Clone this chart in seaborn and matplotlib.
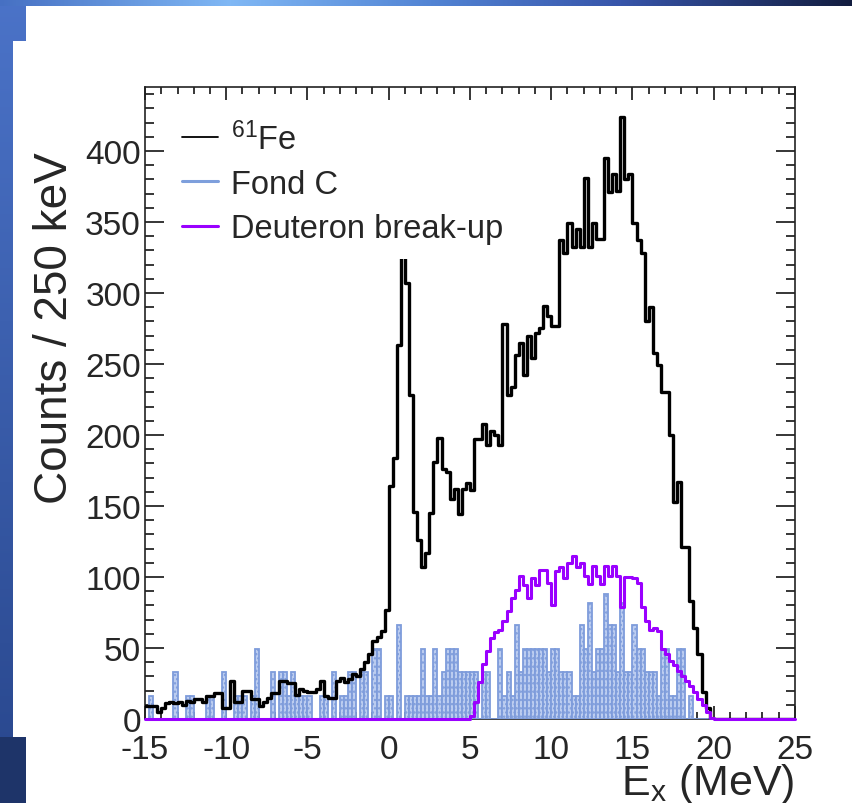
import numpy as np
import pandas as pd
import matplotlib
matplotlib.use("Agg")
import matplotlib.pyplot as plt
import seaborn as sns
from matplotlib.lines import Line2D
from matplotlib.ticker import MultipleLocator

# ---------------- data (counts per 250 keV bin, bins start at -15 MeV) ----------------
E_MIN, E_MAX, BIN_W = -15.0, 25.0, 0.25

# 61Fe spectrum, bins -15.00 ... 19.75 MeV
fe61_counts = [
    9, 9, 9, 5, 8, 11, 12, 11, 12, 10, 13, 12, 14, 14, 12, 16, 16, 18, 18, 8, 8, 27, 12, 12, 20, 20,
    14, 14, 9, 12, 15, 18, 18, 27, 27, 25, 25, 17, 21, 20, 19, 19, 21, 27, 16, 15, 15, 27, 29, 26,
    28, 32, 30, 35, 40, 46, 55, 58, 62, 77,
    164, 184, 263, 355, 307, 228, 146, 126, 107, 117, 145, 181, 198, 176,
    174, 155, 162, 144, 162, 166, 161, 197, 197, 208, 193, 203, 200, 193, 278, 228, 234, 256, 265, 242,
    270, 254, 272, 275,
    291, 284, 277, 277, 337, 328, 349, 332, 345, 332, 381, 332, 349, 338, 338, 395, 371, 384, 372, 424,
    380, 384,
    349, 337, 328, 280, 290, 258, 249, 230, 230, 200, 153, 167, 121, 121, 83, 64, 46, 19, 8, 0,
]

# Fond C (carbon background), bins -15.00 ... 19.75 MeV
fond_c_counts = [
    0, 16, 0, 0, 0, 0, 0, 33, 0, 0, 16, 16, 0, 0, 0, 16, 16, 0, 0, 33,
    0, 0, 16, 16, 16, 0, 16, 49, 0, 0, 0, 33, 0, 33, 33, 16, 33, 16, 16, 16,
    16, 0, 0, 16, 16, 0, 33, 0, 16, 16, 33, 33, 0, 33, 33, 0, 49, 49, 0, 16,
    16, 0, 66, 0, 16, 16, 16, 16, 49, 16, 16, 49, 16, 33, 49, 49, 49, 33, 33, 33,
    33, 33, 0, 33, 33, 0, 0, 49, 16, 33, 16, 66, 33, 49, 49, 49, 49, 49, 49, 33,
    49, 49, 33, 33, 33, 16, 16, 66, 49, 82, 33, 49, 49, 88, 66, 66, 33, 82, 33, 33,
    66, 49, 49, 33, 33, 33, 16, 49, 49, 16, 16, 49, 49, 0, 16, 0, 0, 0, 0, 0,
]

# Deuteron break-up, bins 5.00 ... 19.75 MeV
breakup_first_bin = 5.0
breakup_counts = [
    2, 12, 26, 39, 48, 57, 61, 63, 69, 76, 85, 91, 101, 94, 85, 99,
    94, 105, 105, 96, 80, 104, 107, 99, 110, 115, 107, 110, 101, 95, 108, 101, 95, 108, 101, 108,
    101, 79, 100, 100,
    99, 96, 79, 69, 63, 64, 62, 49, 46, 41, 38, 34, 30, 27, 23, 19, 14, 10, 5, 1,
]

labels = [r"$^{\mathregular{61}}$Fe", "Fond C", "Deuteron break-up"]
x_label = r"E$_{\mathregular{x}}$ (MeV)"
y_label = "Counts / 250 keV"

# ---------------- style ----------------
sns.set_theme(style="white")
plt.rcParams["font.family"] = ["Liberation Sans", "DejaVu Sans"]
plt.rcParams["mathtext.fontset"] = "custom"
plt.rcParams["mathtext.rm"] = "Liberation Sans"
plt.rcParams["mathtext.it"] = "Liberation Sans:italic"
plt.rcParams["axes.unicode_minus"] = False
plt.rcParams["hatch.linewidth"] = 1.1

BLACK = "#000000"
BLUE_EDGE = "#7e9cdb"
BLUE_FACE = "#bccdf0"
BLUE_LINE = "#7e9fdc"
PURPLE = "#9a00ff"

edges = [E_MIN + BIN_W * i for i in range(int(round((E_MAX - E_MIN) / BIN_W)) + 1)]

def centers(first, n):
    return first + BIN_W * (np.arange(n) + 0.5)

df_fe = pd.DataFrame({"E": centers(E_MIN, len(fe61_counts)), "w": fe61_counts})
df_bg = pd.DataFrame({"E": centers(E_MIN, len(fond_c_counts)), "w": fond_c_counts})
df_du = pd.DataFrame({"E": centers(breakup_first_bin, len(breakup_counts)), "w": breakup_counts})

W, H = 853, 804
fig = plt.figure(figsize=(W / 100, H / 100), dpi=100)
fig.patch.set_facecolor("white")

# slide-like decoration (blue frame strips)
img = np.ones((H, W, 3))
top_x = [0, 230, 430, 620, 853]
top_c = np.array([[70, 112, 195], [128, 184, 245], [82, 132, 212], [55, 85, 170], [18, 28, 62]]) / 255
for ch in range(3):
    img[0:7, :, ch] = np.interp(np.arange(W), top_x, top_c[:, ch])
rows = np.arange(H)
left_c = np.stack([np.interp(rows, [0, H], [75, 40]),
                   np.interp(rows, [0, H], [115, 70]),
                   np.interp(rows, [0, H], [200, 140])], axis=1) / 255
img[7:42, 0:26, :] = left_c[7:42, None, :]
img[42:738, 0:13, :] = left_c[42:738, None, :]
img[738:, 0:26, :] = np.array([30, 52, 105]) / 255
bg = fig.add_axes([0, 0, 1, 1], zorder=-10)
bg.imshow(img, aspect="auto", interpolation="nearest")
bg.axis("off")

L, R, T, B = 145, 795, 88, 720
ax = fig.add_axes([L / W, 1 - B / H, (R - L) / W, (B - T) / H])
ax.set_facecolor("white")

sns.histplot(data=df_bg, x="E", weights="w", bins=edges, element="bars", fill=True,
             facecolor=BLUE_FACE, edgecolor=BLUE_EDGE, hatch="....", linewidth=1.3,
             alpha=1, ax=ax, zorder=2.6)
sns.histplot(data=df_fe, x="E", weights="w", bins=edges, element="step", fill=False,
             color=BLACK, linewidth=2.4, ax=ax, zorder=2.7)
sns.histplot(data=df_du, x="E", weights="w", bins=edges, element="step", fill=False,
             color=PURPLE, linewidth=2.2, ax=ax, zorder=2.8, clip_on=False)

ax.set_xlim(E_MIN, E_MAX)
ax.set_ylim(0, 445)

ax.xaxis.set_major_locator(MultipleLocator(5))
ax.xaxis.set_minor_locator(MultipleLocator(1))
ax.yaxis.set_major_locator(MultipleLocator(50))
ax.yaxis.set_minor_locator(MultipleLocator(10))
ax.tick_params(which="both", direction="in", top=True, right=True, bottom=True, left=True,
               color="black", width=1.1, labelsize=24)
ax.tick_params(axis="x", which="major", length=9.5, pad=11)
ax.tick_params(axis="x", which="minor", length=5)
ax.tick_params(axis="y", which="major", length=13.5, pad=3)
ax.tick_params(axis="y", which="minor", length=6.5)
for s in ax.spines.values():
    s.set_color("#222222")
    s.set_linewidth(1.2)

ax.set_ylabel(y_label, fontsize=33)
ax.yaxis.set_label_coords(-0.105, 0.62)
ax.set_xlabel(x_label, fontsize=31, loc="right")
ax.xaxis.set_label_coords(1.0, -0.067)

handles = [Line2D([], [], color=BLACK, lw=1.3),
           Line2D([], [], color=BLUE_LINE, lw=2.2),
           Line2D([], [], color=PURPLE, lw=2.2)]
leg = ax.legend(handles, labels, loc="upper left",
                bbox_to_anchor=((167 - L) / (R - L), (B - 107) / (B - T)),
                borderaxespad=0, frameon=True, fancybox=False, framealpha=1,
                facecolor="white", edgecolor="none", fontsize=23.5,
                handlelength=1.1, handletextpad=0.4, labelspacing=0.40, borderpad=0.47)
leg.set_zorder(5)

fig.savefig("out.png", dpi=100)
